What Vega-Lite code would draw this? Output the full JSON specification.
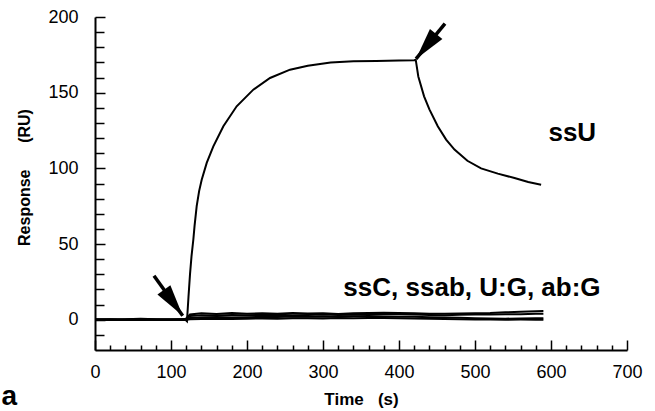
{
  "$schema": "https://vega.github.io/schema/vega-lite/v6.json",
  "width": 532,
  "height": 333,
  "autosize": {"type": "none"},
  "padding": {"left": 95, "top": 17, "right": 28, "bottom": 61},
  "background": "white",
  "config": {
    "view": {"stroke": null},
    "font": "Liberation Sans",
    "axis": {"grid": false, "domainColor": "black", "tickColor": "black", "labelColor": "black", "titleColor": "black", "labelFont": "Liberation Sans", "titleFont": "Liberation Sans"}
  },
  "datasets": {
    "low": [
      {"s": "ssC", "t": 0, "r": 0.3}, {"s": "ssC", "t": 30, "r": 0.2}, {"s": "ssC", "t": 60, "r": 0.6}, {"s": "ssC", "t": 90, "r": 0.1}, {"s": "ssC", "t": 119, "r": 0.3},
      {"s": "ssC", "t": 125, "r": 3.5}, {"s": "ssC", "t": 140, "r": 4.2}, {"s": "ssC", "t": 160, "r": 3.8}, {"s": "ssC", "t": 180, "r": 4.5}, {"s": "ssC", "t": 200, "r": 4.0},
      {"s": "ssC", "t": 220, "r": 4.3}, {"s": "ssC", "t": 240, "r": 3.9}, {"s": "ssC", "t": 260, "r": 4.4}, {"s": "ssC", "t": 280, "r": 4.1}, {"s": "ssC", "t": 300, "r": 4.2},
      {"s": "ssC", "t": 320, "r": 3.8}, {"s": "ssC", "t": 340, "r": 4.3}, {"s": "ssC", "t": 360, "r": 4.5}, {"s": "ssC", "t": 380, "r": 4.6}, {"s": "ssC", "t": 400, "r": 4.4},
      {"s": "ssC", "t": 420, "r": 4.2}, {"s": "ssC", "t": 440, "r": 4.0}, {"s": "ssC", "t": 460, "r": 3.9}, {"s": "ssC", "t": 480, "r": 4.1}, {"s": "ssC", "t": 500, "r": 4.2},
      {"s": "ssC", "t": 520, "r": 4.4}, {"s": "ssC", "t": 540, "r": 4.9}, {"s": "ssC", "t": 560, "r": 5.3}, {"s": "ssC", "t": 580, "r": 5.6}, {"s": "ssC", "t": 590, "r": 5.7},
      {"s": "ssab", "t": 0, "r": 0.0}, {"s": "ssab", "t": 30, "r": 0.1}, {"s": "ssab", "t": 60, "r": -0.1}, {"s": "ssab", "t": 90, "r": 0.2}, {"s": "ssab", "t": 119, "r": 0.0},
      {"s": "ssab", "t": 125, "r": 2.5}, {"s": "ssab", "t": 140, "r": 3.0}, {"s": "ssab", "t": 160, "r": 2.8}, {"s": "ssab", "t": 180, "r": 3.2}, {"s": "ssab", "t": 200, "r": 3.0},
      {"s": "ssab", "t": 220, "r": 3.1}, {"s": "ssab", "t": 240, "r": 3.3}, {"s": "ssab", "t": 260, "r": 3.0}, {"s": "ssab", "t": 280, "r": 3.2}, {"s": "ssab", "t": 300, "r": 3.4},
      {"s": "ssab", "t": 320, "r": 3.1}, {"s": "ssab", "t": 340, "r": 3.3}, {"s": "ssab", "t": 360, "r": 3.6}, {"s": "ssab", "t": 380, "r": 3.8}, {"s": "ssab", "t": 400, "r": 3.6},
      {"s": "ssab", "t": 420, "r": 3.4}, {"s": "ssab", "t": 440, "r": 3.2}, {"s": "ssab", "t": 460, "r": 3.0}, {"s": "ssab", "t": 480, "r": 3.3}, {"s": "ssab", "t": 500, "r": 3.5},
      {"s": "ssab", "t": 520, "r": 3.4}, {"s": "ssab", "t": 540, "r": 3.6}, {"s": "ssab", "t": 560, "r": 3.7}, {"s": "ssab", "t": 580, "r": 3.9}, {"s": "ssab", "t": 590, "r": 4.0},
      {"s": "UG", "t": 0, "r": -0.2}, {"s": "UG", "t": 30, "r": 0.0}, {"s": "UG", "t": 60, "r": 0.2}, {"s": "UG", "t": 90, "r": -0.1}, {"s": "UG", "t": 119, "r": 0.1},
      {"s": "UG", "t": 125, "r": 1.2}, {"s": "UG", "t": 140, "r": 1.5}, {"s": "UG", "t": 160, "r": 1.8}, {"s": "UG", "t": 180, "r": 1.4}, {"s": "UG", "t": 200, "r": 1.7},
      {"s": "UG", "t": 220, "r": 2.0}, {"s": "UG", "t": 240, "r": 1.8}, {"s": "UG", "t": 260, "r": 2.1}, {"s": "UG", "t": 280, "r": 2.0}, {"s": "UG", "t": 300, "r": 2.2},
      {"s": "UG", "t": 320, "r": 2.0}, {"s": "UG", "t": 340, "r": 2.3}, {"s": "UG", "t": 360, "r": 2.4}, {"s": "UG", "t": 380, "r": 2.2}, {"s": "UG", "t": 400, "r": 2.0},
      {"s": "UG", "t": 420, "r": 1.9}, {"s": "UG", "t": 440, "r": 1.7}, {"s": "UG", "t": 460, "r": 1.5}, {"s": "UG", "t": 480, "r": 1.3}, {"s": "UG", "t": 500, "r": 1.0},
      {"s": "UG", "t": 520, "r": 0.8}, {"s": "UG", "t": 540, "r": 0.7}, {"s": "UG", "t": 560, "r": 0.8}, {"s": "UG", "t": 580, "r": 0.9}, {"s": "UG", "t": 590, "r": 0.9},
      {"s": "abG", "t": 0, "r": 0.1}, {"s": "abG", "t": 30, "r": -0.1}, {"s": "abG", "t": 60, "r": 0.0}, {"s": "abG", "t": 90, "r": 0.1}, {"s": "abG", "t": 119, "r": -0.2},
      {"s": "abG", "t": 125, "r": 0.3}, {"s": "abG", "t": 140, "r": 0.5}, {"s": "abG", "t": 160, "r": 0.6}, {"s": "abG", "t": 180, "r": 0.4}, {"s": "abG", "t": 200, "r": 0.7},
      {"s": "abG", "t": 220, "r": 0.8}, {"s": "abG", "t": 240, "r": 0.6}, {"s": "abG", "t": 260, "r": 0.9}, {"s": "abG", "t": 280, "r": 1.0}, {"s": "abG", "t": 300, "r": 0.8},
      {"s": "abG", "t": 320, "r": 1.1}, {"s": "abG", "t": 340, "r": 1.0}, {"s": "abG", "t": 360, "r": 1.2}, {"s": "abG", "t": 380, "r": 1.1}, {"s": "abG", "t": 400, "r": 1.0},
      {"s": "abG", "t": 420, "r": 0.8}, {"s": "abG", "t": 440, "r": 0.6}, {"s": "abG", "t": 460, "r": 0.5}, {"s": "abG", "t": 480, "r": 0.3}, {"s": "abG", "t": 500, "r": 0.2},
      {"s": "abG", "t": 520, "r": 0.1}, {"s": "abG", "t": 540, "r": 0.0}, {"s": "abG", "t": 560, "r": 0.1}, {"s": "abG", "t": 580, "r": 0.0}, {"s": "abG", "t": 590, "r": 0.0}
    ],
    "ssU": [
      {"t": 0, "r": 0.0}, {"t": 20, "r": 0.3}, {"t": 40, "r": 0.0}, {"t": 60, "r": 0.5}, {"t": 80, "r": 0.0}, {"t": 100, "r": 0.2}, {"t": 118, "r": 0.5}, {"t": 121, "r": -1.0},
      {"t": 123, "r": 15}, {"t": 125, "r": 30}, {"t": 127, "r": 42}, {"t": 129.4, "r": 53}, {"t": 131, "r": 62}, {"t": 133.8, "r": 75}, {"t": 137, "r": 85},
      {"t": 140.4, "r": 92.5}, {"t": 147, "r": 103.6}, {"t": 155.7, "r": 114.5}, {"t": 168.9, "r": 127.8}, {"t": 186.4, "r": 141}, {"t": 208.3, "r": 152},
      {"t": 230.3, "r": 159.7}, {"t": 256.6, "r": 165.2}, {"t": 280, "r": 167.8}, {"t": 310, "r": 170}, {"t": 340, "r": 170.8}, {"t": 370, "r": 171}, {"t": 400, "r": 171.2}, {"t": 420, "r": 171.5},
      {"t": 422, "r": 171.8}, {"t": 425.4, "r": 160.7}, {"t": 433, "r": 147.6}, {"t": 440, "r": 139}, {"t": 451, "r": 127.8}, {"t": 462, "r": 119}, {"t": 473, "r": 112.4},
      {"t": 490, "r": 105}, {"t": 508, "r": 100}, {"t": 530, "r": 96.5}, {"t": 552, "r": 93.6}, {"t": 570, "r": 91}, {"t": 587, "r": 89.2}
    ],
    "labels": [
      {"text": "ssU", "t": 628, "r": 117.8},
      {"text": "ssC, ssab, U:G, ab:G", "t": 496, "r": 15.9}
    ],
    "panel": [
      {"text": "a", "t": -123, "r": -60.3}
    ],
    "arrows": [
      {"id": 1, "t0": 77.6, "r0": 29, "t1": 115.4, "r1": 2.6},
      {"id": 2, "t0": 460.5, "r0": 195.6, "t1": 422.4, "r1": 172.3}
    ]
  },
  "layer": [
    {
      "data": {"name": "low"},
      "mark": {"type": "line", "color": "black", "strokeWidth": 2},
      "encoding": {
        "x": {"field": "t", "type": "quantitative", "scale": {"domain": [0, 700], "nice": false},
          "axis": {"orient": "bottom", "values": [20, 40, 60, 80, 120, 140, 160, 180, 220, 240, 260, 280, 320, 340, 360, 380, 420, 440, 460, 480, 520, 540, 560, 580, 620, 640, 660, 680], "labels": false, "domain": false, "tickSize": -5, "tickWidth": 1.5, "title": null}},
        "y": {"field": "r", "type": "quantitative", "scale": {"domain": [-20, 200], "nice": false},
          "axis": {"orient": "left", "values": [-10, 10, 20, 30, 40, 60, 70, 80, 90, 110, 120, 130, 140, 160, 170, 180, 190], "labels": false, "domain": false, "tickSize": -9, "tickWidth": 1.5, "title": null}},
        "detail": {"field": "s", "type": "nominal"}
      }
    },
    {
      "data": {"name": "ssU"},
      "mark": {"type": "line", "color": "black", "strokeWidth": 2},
      "encoding": {
        "x": {"field": "t", "type": "quantitative", "scale": {"domain": [0, 700], "nice": false},
          "axis": {"orient": "bottom", "values": [0, 100, 200, 300, 400, 500, 600, 700], "domainWidth": 2, "tickSize": -10, "tickWidth": 1.5, "labelFontSize": 18, "labelPadding": 23, "labelFlush": false,
            "title": "Time\u00a0\u00a0\u00a0(s)", "titleFontSize": 17, "titleFontWeight": "bold", "titleBaseline": "alphabetic", "titleY": 54}},
        "y": {"field": "r", "type": "quantitative", "scale": {"domain": [-20, 200], "nice": false},
          "axis": {"orient": "left", "values": [0, 50, 100, 150, 200], "domainWidth": 2, "tickSize": -10, "tickWidth": 1.5, "labelFontSize": 18, "labelPadding": 27, "labelFlush": false,
            "title": "Response\u00a0\u00a0\u00a0\u00a0\u00a0\u00a0(RU)", "titleFontSize": 16, "titleFontWeight": "bold", "titleX": -63, "titleY": 160}}
      }
    },
    {
      "data": {"name": "labels"},
      "mark": {"type": "text", "font": "Liberation Sans", "fontWeight": "bold", "fontSize": 26, "align": "center", "baseline": "alphabetic", "color": "black"},
      "encoding": {
        "x": {"field": "t", "type": "quantitative", "axis": null},
        "y": {"field": "r", "type": "quantitative", "axis": null},
        "text": {"field": "text"}
      }
    },
    {
      "data": {"name": "panel"},
      "mark": {"type": "text", "font": "Liberation Sans", "fontWeight": "bold", "fontSize": 28, "align": "left", "baseline": "bottom", "color": "black"},
      "encoding": {
        "x": {"field": "t", "type": "quantitative", "axis": null},
        "y": {"field": "r", "type": "quantitative", "axis": null},
        "text": {"field": "text"}
      }
    },
    {
      "data": {"name": "arrows"},
      "mark": {"type": "rule", "color": "black", "strokeWidth": 3.5},
      "encoding": {
        "x": {"field": "t0", "type": "quantitative", "axis": null},
        "y": {"field": "r0", "type": "quantitative", "axis": null},
        "x2": {"field": "t1"},
        "y2": {"field": "r1"}
      }
    },
    {
      "data": {"name": "arrows"},
      "transform": [{"filter": "datum.id == 1"}],
      "mark": {"type": "point", "shape": "M0,0L0.5,2L-0.5,2Z", "size": 1024, "angle": 144, "filled": true, "color": "black", "opacity": 1},
      "encoding": {
        "x": {"field": "t1", "type": "quantitative", "axis": null},
        "y": {"field": "r1", "type": "quantitative", "axis": null}
      }
    },
    {
      "data": {"name": "arrows"},
      "transform": [{"filter": "datum.id == 2"}],
      "mark": {"type": "point", "shape": "M0,0L0.5,2L-0.5,2Z", "size": 1024, "angle": 219, "filled": true, "color": "black", "opacity": 1},
      "encoding": {
        "x": {"field": "t1", "type": "quantitative", "axis": null},
        "y": {"field": "r1", "type": "quantitative", "axis": null}
      }
    }
  ],
  "resolve": {"axis": {"x": "independent", "y": "independent"}}
}
